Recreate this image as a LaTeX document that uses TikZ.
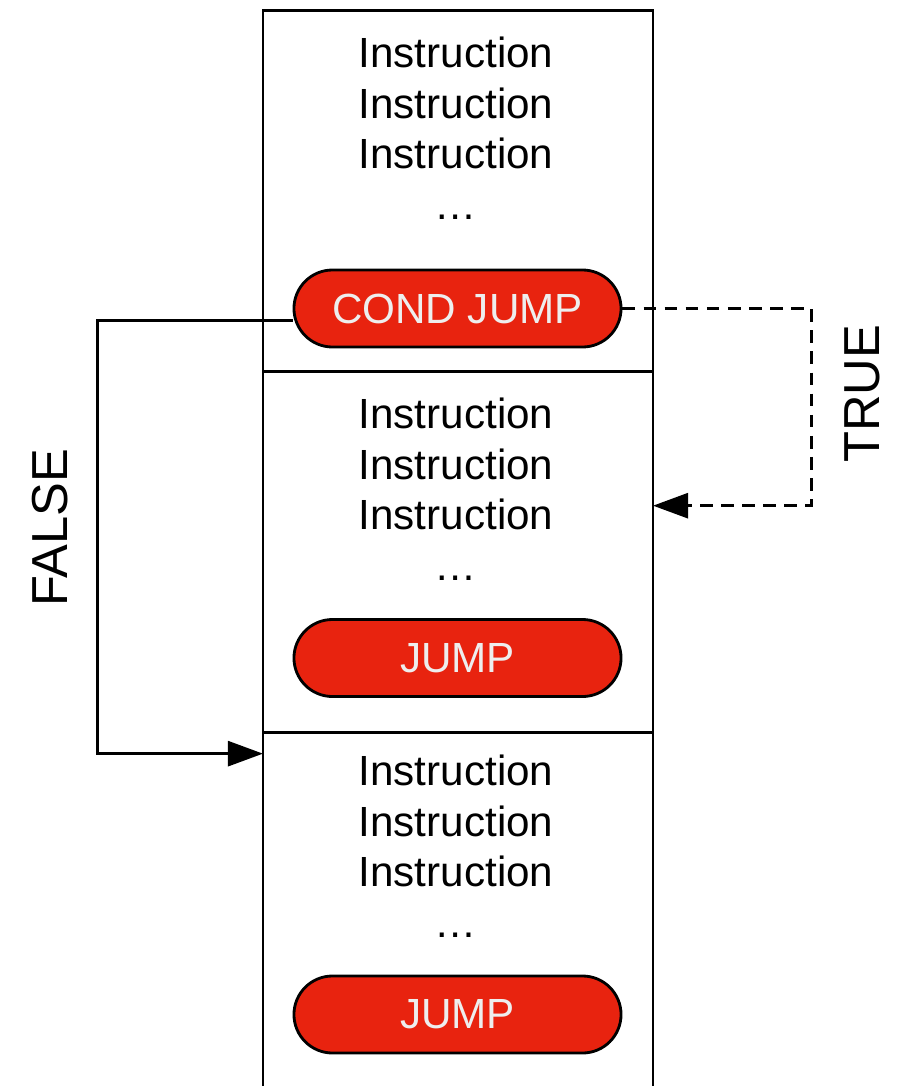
\documentclass[tikz,border=0pt]{standalone}
\usepackage{fontspec}
\setmainfont{Liberation Sans}
\usepackage{xcolor}
\definecolor{cRed} {HTML}{E8230F}
\definecolor{cPale}{HTML}{EEEEEE}
\usetikzlibrary{arrows.meta, positioning, shapes.misc}
\tikzset{
  blk/.style   = {rectangle, draw, line width=1.8pt, outer sep=0pt,
                  minimum width=9.75cm, minimum height=9.025cm},
  instr/.style = {align=center, font=\fontsize{30}{35.9}\selectfont},
  pill/.style  = {rounded rectangle, draw, line width=2pt, fill=cRed,
                  text=cPale, minimum width=8.175cm, minimum height=1.925cm,
                  inner sep=0pt, font=\fontsize{30}{36}\selectfont},
  arr/.style   = {-{Triangle[length=0.875cm, width=0.625cm]}, line width=2pt},
  darr/.style  = {arr, dash pattern=on 9pt off 6pt},
  lbl/.style   = {rotate=90, font=\fontsize{36}{40}\selectfont},
}

\begin{document}
\begin{tikzpicture}[x=0.025cm, y=-0.025cm]
  \useasboundingbox (0,0) rectangle (897,1086);
  \clip (0,0) rectangle (897,1086);

  % the three blocks of code
  \node[blk] (blk1) at (458,191) {};
  \node[blk, below=0pt of blk1] (blk2) {};
  \node[blk, below=0pt of blk2] (blk3) {};

  \node[instr] (ins1) at (456,128) {Instruction\\Instruction\\Instruction\\…};
  \node[instr] (ins2) at (456,489) {Instruction\\Instruction\\Instruction\\…};
  \node[instr] (ins3) at (456,846) {Instruction\\Instruction\\Instruction\\…};

  \node[pill] (cj)   at (457.5,308.5) {COND JUMP};
  \node[pill] (jmp1) at (457.5,658)   {JUMP};
  \node[pill] (jmp2) at (457.5,1014.5) {JUMP};

  % branches
  \draw[arr]  ([yshift=-0.3cm]cj.west) -- ++(-4.875cm,0)
              |- ([yshift=-0.525cm]blk3.north west);
  \draw[darr] (cj.east) -- ++(4.725cm,0) |- ([yshift=1.16cm]blk2.east);

  \node[lbl] (ltrue)  at (862,394) {TRUE};
  \node[lbl] (lfalse) at (50,528)  {FALSE};

\end{tikzpicture}
\end{document}
